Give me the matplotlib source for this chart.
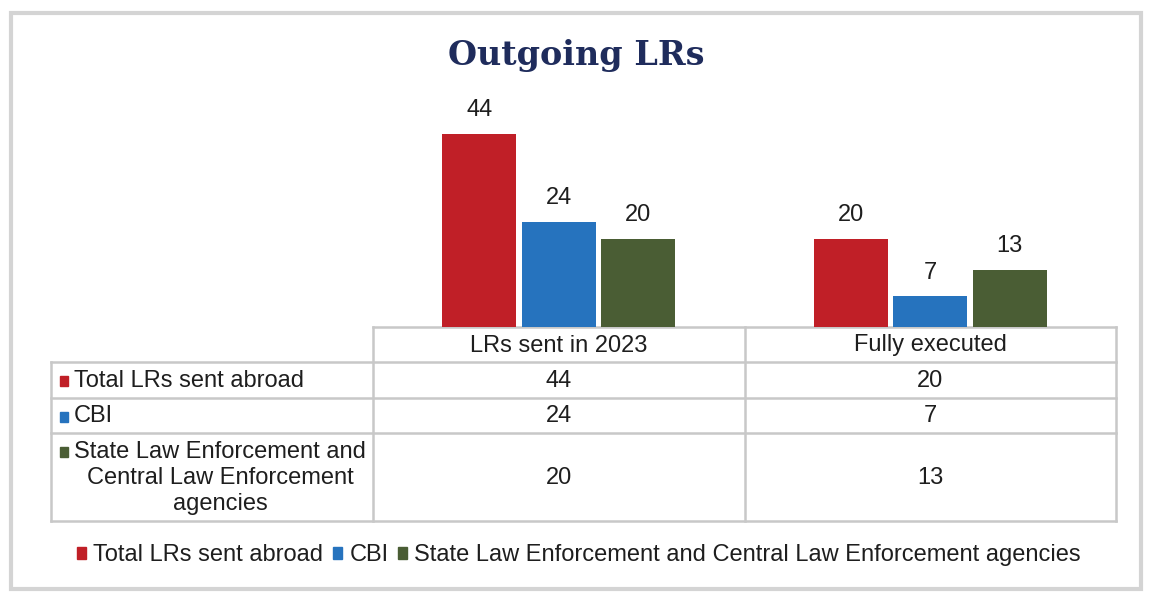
import matplotlib.pyplot as plt
from matplotlib.patches import Rectangle
import numpy as np

categories = ["LRs sent in 2023", "Fully executed"]
series_names = ["Total LRs sent abroad", "CBI",
                "State Law Enforcement and Central Law Enforcement agencies"]
row_labels = ["Total LRs sent abroad", "CBI",
              "State Law Enforcement and\nCentral Law Enforcement\nagencies"]
total_lrs = [44, 20]
cbi = [24, 7]
state_central = [20, 13]
colors = ["#C01F27", "#2673BE", "#4A5D34"]

W, H = 1149, 597
plt.rcParams["font.family"] = ["Liberation Sans", "DejaVu Sans"]
fig = plt.figure(figsize=(W / 100, H / 100), dpi=100)

# overlay in pixel coords for frame and table
ov = fig.add_axes([0, 0, 1, 1])
ov.set_xlim(0, W)
ov.set_ylim(H, 0)
ov.axis("off")
ov.add_patch(Rectangle((11, 13), 1130, 576, fill=False, ec="#D4D4D4", lw=3))

ov.text(576, 56, "Outgoing LRs", ha="center", va="center", fontsize=24,
        fontweight="bold", color="#1F2C5C", family="DejaVu Serif")

# bars
x0, x1 = 373, 1116
y_base, y_top = 327, 107.5
ax = fig.add_axes([x0 / W, 1 - y_base / H, (x1 - x0) / W, (y_base - y_top) / H])
ax.set_xlim(-0.5, 1.5)
ax.set_ylim(0, 50)
ax.axis("off")
x = np.arange(len(categories))
data = [total_lrs, cbi, state_central]
width = 0.198
offsets = [-0.214, 0, 0.214]
tc = "#1E1E1E"
for vals, off, c in zip(data, offsets, colors):
    bars = ax.bar(x + off, vals, width, color=c)
    for b, v in zip(bars, vals):
        ax.text(b.get_x() + b.get_width() / 2, v + 2.9, str(v), ha="center",
                va="bottom", fontsize=17, color=tc)

# data table
gc = "#C8C8C8"
tl = 51
col_x = [373, 745, 1116]
rows_y = [327, 362, 398, 433, 521]
lw = 1.8
ov.plot([col_x[0], col_x[2]], [rows_y[0], rows_y[0]], color=gc, lw=lw)
for yy in rows_y[1:]:
    ov.plot([tl, col_x[2]], [yy, yy], color=gc, lw=lw)
for xx in col_x:
    ov.plot([xx, xx], [rows_y[0], rows_y[-1]], color=gc, lw=lw)
ov.plot([tl, tl], [rows_y[1], rows_y[-1]], color=gc, lw=lw)

fs = 17
for j, cat in enumerate(categories):
    ov.text((col_x[j] + col_x[j + 1]) / 2, (rows_y[0] + rows_y[1]) / 2 + 1, cat,
            ha="center", va="center", fontsize=fs, color=tc)
for i, (lab, vals, c) in enumerate(zip(row_labels, data, colors)):
    yc = (rows_y[i + 1] + rows_y[i + 2]) / 2
    nlines = lab.count("\n") + 1
    first_y = yc - (nlines - 1) / 2 * 26.5
    ov.add_patch(Rectangle((60, first_y - 4), 8, 10, color=c))
    ov.text(74, yc + 1, lab, ha="left", va="center", fontsize=fs,
            multialignment="center", color=tc, linespacing=1.22)
    for j, v in enumerate(vals):
        ov.text((col_x[j] + col_x[j + 1]) / 2, yc + 1, str(v), ha="center",
                va="center", fontsize=fs, color=tc)

# legend
handles = [Rectangle((0, 0), 1, 1, color=c) for c in colors]
fig.legend(handles, series_names, loc="center", bbox_to_anchor=(579 / W, 1 - 555 / H),
           ncol=3, frameon=False, fontsize=fs, handlelength=0.4, handleheight=0.4,
           handletextpad=0.3, columnspacing=0.4, labelcolor=tc)

fig.savefig("out.png", dpi=100)
